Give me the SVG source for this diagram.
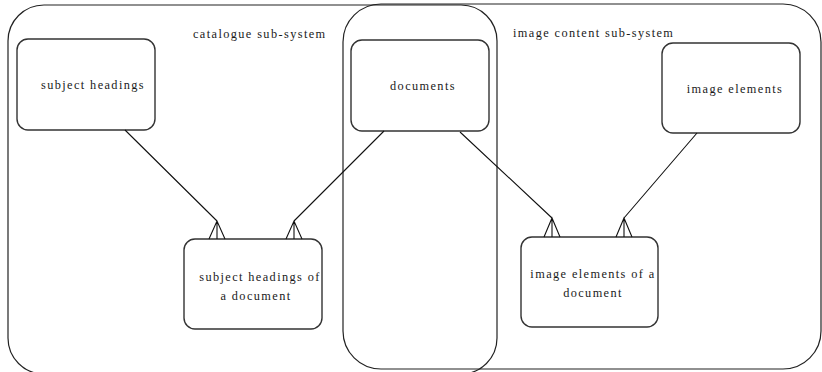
<svg xmlns="http://www.w3.org/2000/svg" width="822" height="372" viewBox="0 0 822 372">
  <style>
    .frame { fill: none; stroke: #222; stroke-width: 1.2; }
    .entity { fill: #fff; stroke: #333; stroke-width: 1.4; }
    .label { font-family: "Liberation Serif", "Times New Roman", serif; font-size: 12.3px; fill: #1a1a1a; letter-spacing: 1.4px; }
    .link { fill: none; stroke: #111; stroke-width: 1.1; }
  </style>

  <!-- sub-system boundaries -->
  <g id="catalogue-subsystem">
    <rect class="frame" x="8" y="5" width="489" height="369" rx="36" ry="36"/>
    <text class="label" x="193" y="38">catalogue sub-system</text>
  </g>
  <g id="image-content-subsystem">
    <rect class="frame" x="343" y="4" width="478" height="365" rx="38" ry="38"/>
    <text class="label" x="513" y="37">image content sub-system</text>
  </g>

  <!-- entities -->
  <g id="subject-headings">
    <rect class="entity" x="17" y="39" width="138" height="91" rx="11" ry="11"/>
    <text class="label" x="93" y="89" text-anchor="middle">subject headings</text>
  </g>
  <g id="documents">
    <rect class="entity" x="351" y="40" width="138" height="91" rx="11" ry="11"/>
    <text class="label" x="423" y="90" text-anchor="middle">documents</text>
  </g>
  <g id="image-elements">
    <rect class="entity" x="662" y="43" width="138" height="90" rx="11" ry="11"/>
    <text class="label" x="735" y="93" text-anchor="middle">image elements</text>
  </g>
  <g id="subject-headings-of-a-document">
    <rect class="entity" x="184" y="239" width="138" height="90" rx="11" ry="11"/>
    <text class="label" x="260" y="281" text-anchor="middle">subject headings of</text>
    <text class="label" x="256" y="300" text-anchor="middle">a document</text>
  </g>
  <g id="image-elements-of-a-document">
    <rect class="entity" x="521" y="237" width="137" height="90" rx="11" ry="11"/>
    <text class="label" x="593" y="278" text-anchor="middle">image elements of a</text>
    <text class="label" x="593" y="297" text-anchor="middle">document</text>
  </g>

  <!-- one-to-many relationships with crow's feet -->
  <g id="connectors">
    <path class="link" d="M125,130 L217,221 M209,239 L217,221 L225,239 M217,221 L217,239"/>
    <path class="link" d="M384,131 L294,221 M286,239 L294,221 L302,239 M294,221 L294,239"/>
    <path class="link" d="M460,132 L552,218 M544,237 L552,218 L560,237 M552,218 L552,237"/>
    <path class="link" d="M697,133 L624,218 M616,237 L624,218 L632,237 M624,218 L624,237"/>
  </g>
</svg>
